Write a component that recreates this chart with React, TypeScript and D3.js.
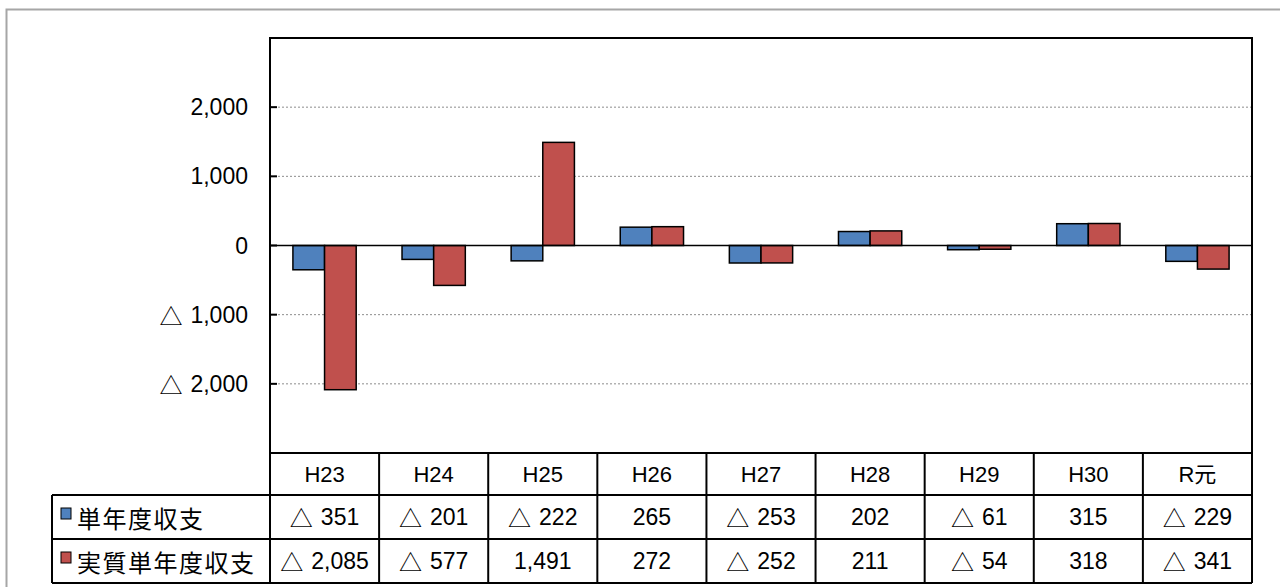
import { scaleBand, scaleLinear, format } from "d3";

const categories = ["H23", "H24", "H25", "H26", "H27", "H28", "H29", "H30", "R元"];
const seriesNames = ["単年度収支", "実質単年度収支"];
const singleYear = [-351, -201, -222, 265, -253, 202, -61, 315, -229];
const realSingleYear = [-2085, -577, 1491, 272, -252, 211, -54, 318, -341];
const yTicks = [-2000, -1000, 0, 1000, 2000];
const colors = ["#4F81BD", "#C0504D"];

const W = 1280;
const H = 587;
const plot = { left: 270, right: 1252, top: 38, bottom: 453 };
const rowH = [42, 44, 44];
const legendLeft = 52;
const font = "'Liberation Sans', 'Noto Sans CJK JP', sans-serif";
const cjk = "'Noto Sans CJK JP', sans-serif";

const comma = format(",");

// negative values are written with a leading triangle, Japanese style
function Num({ v }: { v: number }) {
  if (v >= 0) return <>{comma(v)}</>;
  return (
    <>
      <tspan fontFamily={cjk}>△</tspan>
      <tspan dx={8}>{comma(-v)}</tspan>
    </>
  );
}

export default function App() {
  const series = [singleYear, realSingleYear];
  const x = scaleBand<string>()
    .domain(categories)
    .range([plot.left, plot.right])
    .paddingInner(0.42)
    .paddingOuter(0.21);
  const x1 = scaleBand<number>().domain([0, 1]).range([0, x.bandwidth()]);
  const y = scaleLinear().domain([-3000, 3000]).range([plot.bottom, plot.top]);
  const cols = scaleBand<string>().domain(categories).range([plot.left, plot.right]);

  const rowTops = [plot.bottom, plot.bottom + rowH[0], plot.bottom + rowH[0] + rowH[1]];
  const tableBottom = rowTops[2] + rowH[2];

  return (
    <div style={{ position: "fixed", left: 0, top: 0 }}>
      <svg width={W} height={H} style={{ display: "block", background: "#fff" }}>
        {/* outer frame */}
        <path d={`M6.5,${H} V9.5 H${W}`} fill="none" stroke="#a6a6a6" strokeWidth={2} />

        {/* grid */}
        {yTicks
          .filter((t) => t !== 0)
          .map((t) => (
            <line
              key={t}
              x1={plot.left}
              x2={plot.right}
              y1={y(t)}
              y2={y(t)}
              stroke="#8c8c8c"
              strokeWidth={1}
              strokeDasharray="2,2"
            />
          ))}

        {/* bars */}
        {series.map((vals, si) =>
          vals.map((v, i) => {
            const bx = (x(categories[i]) ?? 0) + (x1(si) ?? 0);
            const y0 = y(Math.max(0, v));
            const y1 = y(Math.min(0, v));
            return (
              <rect
                key={`${si}-${i}`}
                x={bx}
                y={y0}
                width={x1.bandwidth()}
                height={y1 - y0}
                fill={colors[si]}
                stroke="#000"
                strokeWidth={1.5}
              />
            );
          })
        )}

        {/* zero line */}
        <line x1={plot.left} x2={plot.right} y1={y(0)} y2={y(0)} stroke="#000" strokeWidth={1.5} />

        {/* y axis ticks + labels */}
        {yTicks.map((t) => (
          <g key={t}>
            <line x1={plot.left} x2={plot.left + 7} y1={y(t)} y2={y(t)} stroke="#000" strokeWidth={2} />
            <text
              x={248}
              y={y(t)}
              textAnchor="end"
              dominantBaseline="central"
              fontFamily={font}
              fontSize={23}
              fill="#000"
            >
              <Num v={t} />
            </text>
          </g>
        ))}

        {/* plot frame */}
        <rect
          x={plot.left}
          y={plot.top}
          width={plot.right - plot.left}
          height={plot.bottom - plot.top}
          fill="none"
          stroke="#000"
          strokeWidth={2}
        />

        {/* data table */}
        {categories.map((c, i) => {
          const cx = (cols(c) ?? 0) + cols.bandwidth() / 2;
          return (
            <g key={c}>
              <text
                x={cx}
                y={rowTops[0] + rowH[0] / 2}
                textAnchor="middle"
                dominantBaseline="central"
                fontFamily={font}
                fontSize={22}
              >
                {c}
              </text>
              {series.map((vals, si) => (
                <text
                  key={si}
                  x={cx}
                  y={rowTops[si + 1] + rowH[si + 1] / 2}
                  textAnchor="middle"
                  dominantBaseline="central"
                  fontFamily={font}
                  fontSize={23}
                >
                  <Num v={vals[i]} />
                </text>
              ))}
            </g>
          );
        })}

        {/* table lines */}
        {categories.slice(1).map((c) => (
          <line
            key={c}
            x1={cols(c) ?? 0}
            x2={cols(c) ?? 0}
            y1={plot.bottom}
            y2={tableBottom}
            stroke="#000"
            strokeWidth={2}
          />
        ))}
        <line x1={plot.left} x2={plot.left} y1={plot.bottom} y2={tableBottom} stroke="#000" strokeWidth={2} />
        <line x1={plot.right} x2={plot.right} y1={plot.bottom} y2={tableBottom} stroke="#000" strokeWidth={2} />
        <line x1={legendLeft} x2={plot.right} y1={rowTops[1]} y2={rowTops[1]} stroke="#000" strokeWidth={2} />
        <line x1={legendLeft} x2={plot.right} y1={rowTops[2]} y2={rowTops[2]} stroke="#000" strokeWidth={2} />
        <line x1={legendLeft} x2={plot.right} y1={tableBottom} y2={tableBottom} stroke="#000" strokeWidth={2} />
        <line x1={legendLeft} x2={legendLeft} y1={rowTops[1]} y2={tableBottom} stroke="#000" strokeWidth={2} />

        {/* legend keys */}
        {seriesNames.map((name, si) => {
          const cy = rowTops[si + 1] + rowH[si + 1] / 2;
          return (
            <g key={name}>
              <rect x={61} y={cy - 9} width={10} height={11} fill={colors[si]} stroke="#000" strokeWidth={1} />
              <text
                x={77}
                y={cy}
                dominantBaseline="central"
                fontFamily={cjk}
                fontSize={24}
                letterSpacing={1.5}
              >
                {name}
              </text>
            </g>
          );
        })}
      </svg>
    </div>
  );
}
